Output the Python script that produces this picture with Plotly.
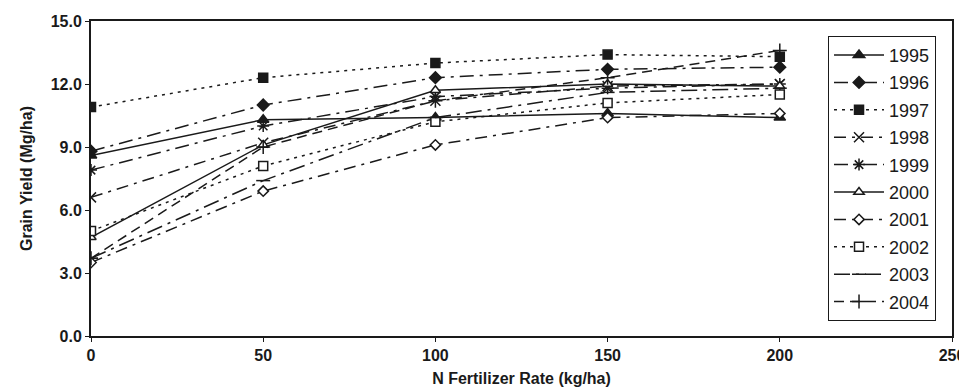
import plotly.graph_objects as go

n_rates = [0, 50, 100, 150, 200]
years = ["1995", "1996", "1997", "1998", "1999", "2000", "2001", "2002", "2003", "2004"]
y1995 = [8.6, 10.3, 10.4, 10.6, 10.4]
y1996 = [8.8, 11.0, 12.3, 12.7, 12.8]
y1997 = [10.9, 12.3, 13.0, 13.4, 13.3]
y1998 = [6.6, 9.2, 11.2, 11.9, 12.0]
y1999 = [7.9, 10.0, 11.4, 11.8, 12.0]
y2000 = [4.7, 9.1, 11.7, 12.0, 11.9]
y2001 = [3.5, 6.9, 9.1, 10.4, 10.6]
y2002 = [5.0, 8.1, 10.2, 11.1, 11.5]
y2003 = [3.7, 7.4, 10.4, 11.6, 11.8]
y2004 = [3.7, 9.0, 11.2, 12.3, 13.6]
series = [y1995, y1996, y1997, y1998, y1999, y2000, y2001, y2002, y2003, y2004]

INK = "#1a1a1a"
symbols = ["triangle-up", "diamond", "square", "x-thin-open", "asterisk-open",
           "triangle-up", "diamond", "square", "line-ew-open", "cross-thin-open"]
fills = [INK, INK, INK, INK, INK, "white", "white", "white", INK, INK]
dashes = ["solid", "14px,6px,3px,6px", "3px,5px", "12px,6px,3px,6px", "14px,6px,3px,6px",
          "solid", "12px,6px,3px,6px", "3px,5px", "16px,6px,3px,6px", "10px,6px"]
sizes = [10, 9, 9, 10, 10, 9, 8, 9, 10, 10]

fig = go.Figure()
for i, (yr, vals) in enumerate(zip(years, series)):
    fig.add_trace(go.Scatter(
        x=n_rates, y=vals, name=yr, mode="lines+markers",
        legendgroup=yr,
        line=dict(color=INK, width=1.5, dash=dashes[i]),
        marker=dict(symbol=symbols[i], size=sizes[i], color=fills[i],
                    line=dict(color=INK, width=1.5)),
    ))

FONT = "Liberation Sans, Arial, sans-serif"
# page body has an 8px margin, so the figure is drawn 8px in from the corner
fig.update_layout(
    width=959, height=381,
    margin=dict(l=83, r=15, t=13, b=53),
    paper_bgcolor="white", plot_bgcolor="white",
    font=dict(family=FONT, color=INK, size=14),
    legend=dict(x=0.856, y=0.953, xanchor="left", yanchor="top",
                bordercolor=INK, borderwidth=1, bgcolor="white",
                font=dict(size=18), tracegroupgap=1, itemwidth=50),
    showlegend=True,
)
fig.update_xaxes(range=[0, 250], tickvals=[0, 50, 100, 150, 200, 250], automargin=False,
                 showgrid=False, zeroline=False, showline=True, linecolor=INK, linewidth=2,
                 mirror=True, ticks="outside", ticklen=4, tickcolor=INK,
                 tickfont=dict(size=16, family=FONT, weight="bold"),
                 title=dict(text="N Fertilizer Rate (kg/ha)", font=dict(size=16, weight="bold"), standoff=10))
fig.update_yaxes(range=[0, 15], tickvals=[0, 3, 6, 9, 12, 15], tickformat=".1f", automargin=False,
                 showgrid=False, zeroline=False, showline=True, linecolor=INK, linewidth=2,
                 mirror=True, ticks="outside", ticklen=4, tickcolor=INK,
                 tickfont=dict(size=16, family=FONT, weight="bold"),
                 title=dict(text="Grain Yield (Mg/ha)", font=dict(size=16, weight="bold"), standoff=14))

fig.write_html("out.html")
